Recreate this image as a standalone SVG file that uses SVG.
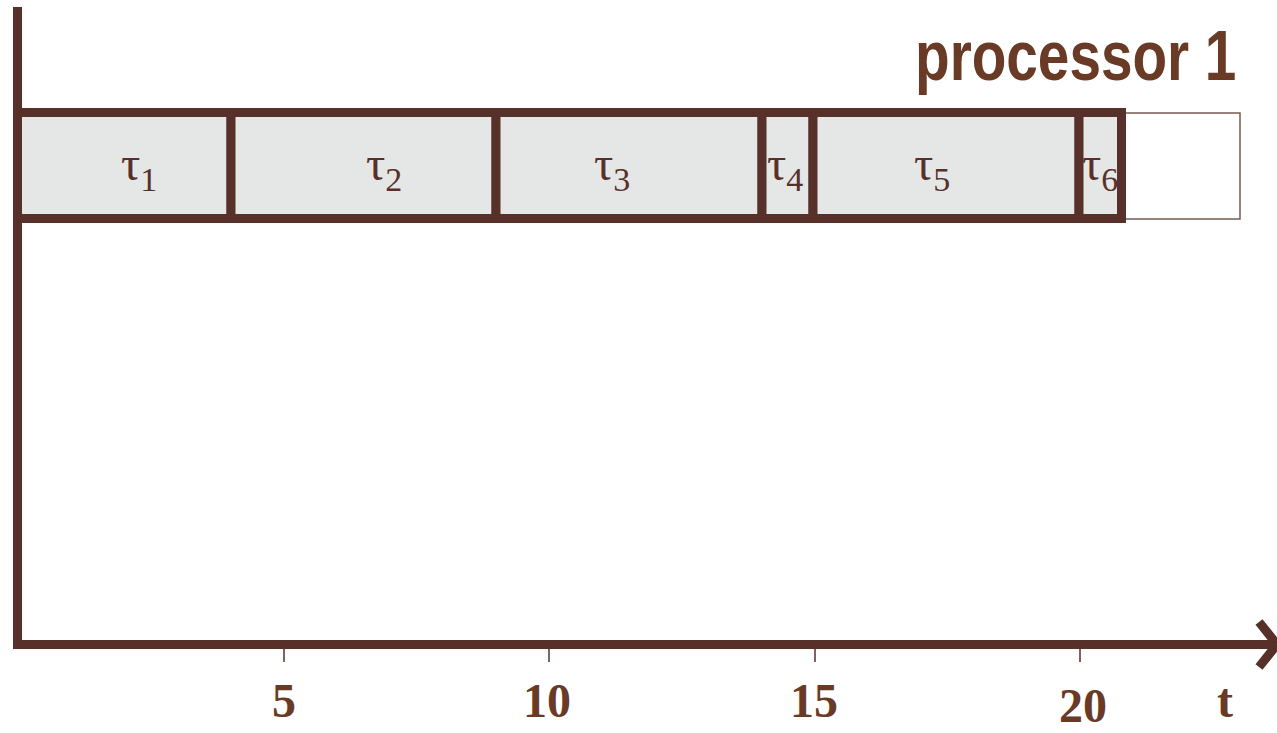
<svg xmlns="http://www.w3.org/2000/svg" width="1277" height="733" viewBox="0 0 1277 733">
<style>
.task{fill:#e5e7e6;stroke:#58302a;stroke-width:9}
.tau{font-family:"Liberation Serif","Times New Roman",serif;fill:#58302a;font-size:48px}
.sub{font-size:34px}
.axis{fill:none;stroke:#58302a;stroke-width:9}
.tick{stroke:#58302a;stroke-width:1.5}
.num{font-family:"Liberation Serif","Times New Roman",serif;font-weight:bold;font-size:48px;fill:#693a25;text-anchor:middle}
</style>
<rect width="1277" height="733" fill="#ffffff"/>
<g id="idle">
<rect x="1121" y="113" width="119" height="106" fill="#ffffff" stroke="#7a5a52" stroke-width="1.5"/>
</g>
<g id="tau1"><rect class="task" x="17.5" y="112.5" width="213.5" height="106"/><text class="tau" x="121" y="180">τ<tspan class="sub" dy="11">1</tspan></text></g>
<g id="tau2"><rect class="task" x="231" y="112.5" width="265" height="106"/><text class="tau" x="366" y="180">τ<tspan class="sub" dy="11">2</tspan></text></g>
<g id="tau3"><rect class="task" x="496" y="112.5" width="266" height="106"/><text class="tau" x="594" y="180">τ<tspan class="sub" dy="11">3</tspan></text></g>
<g id="tau4"><rect class="task" x="762" y="112.5" width="51" height="106"/><text class="tau" x="767" y="180">τ<tspan class="sub" dy="11">4</tspan></text></g>
<g id="tau5"><rect class="task" x="813" y="112.5" width="266" height="106"/><text class="tau" x="914" y="180">τ<tspan class="sub" dy="11">5</tspan></text></g>
<g id="tau6"><rect class="task" x="1079" y="112.5" width="42.5" height="106"/><text class="tau" x="1082" y="180">τ<tspan class="sub" dy="11">6</tspan></text></g>
<g id="label"><text transform="translate(915,80) scale(0.81,1)" x="0" y="0" font-family="'Liberation Sans',Arial,sans-serif" font-weight="bold" font-size="70" fill="#693a25">processor 1</text></g>
<g id="connectors">
<path class="axis" d="M17.5 7 V644.5 H1275"/>
<path class="axis" d="M1259 622 L1277 644.5 L1259 667"/>
<line class="tick" x1="284" y1="648" x2="284" y2="662"/>
<line class="tick" x1="549" y1="648" x2="549" y2="662"/>
<line class="tick" x1="815" y1="648" x2="815" y2="662"/>
<line class="tick" x1="1080" y1="648" x2="1080" y2="662"/>
</g>
<g id="ticklabels">
<text class="num" x="284" y="717">5</text>
<text class="num" x="547" y="717">10</text>
<text class="num" x="814" y="717">15</text>
<text class="num" x="1083" y="722">20</text>
<text class="num" x="1225" y="717">t</text>
</g>
</svg>
